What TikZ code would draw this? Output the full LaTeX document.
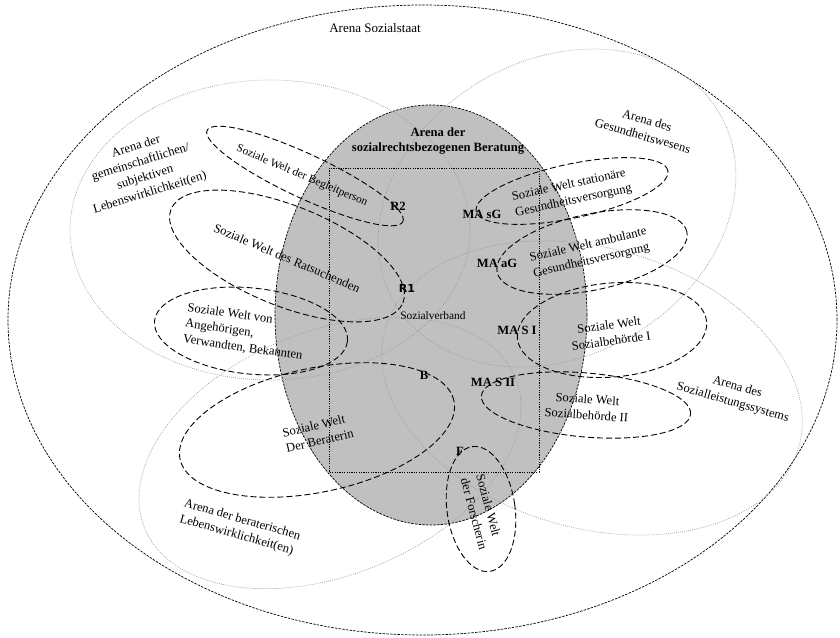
\documentclass[tikz,border=0pt]{standalone}
\usepackage{fontspec}
\setmainfont{Liberation Serif}
\newfontfamily\rfont{DejaVu Sans}
\definecolor{beratung}{HTML}{C0C0C0}
\definecolor{arenagray}{HTML}{9E9E9E}
\begin{document}
\begin{tikzpicture}[x=1pt,y=-1pt,
  outer/.style={draw=black, line width=0.7pt, dash pattern=on 2.5pt off 1.2pt},
  arena/.style={draw=arenagray, line width=0.7pt, dash pattern=on 0.8pt off 1.2pt},
  world/.style={draw=black, line width=0.9pt, dash pattern=on 6pt off 3pt},
  rahmen/.style={draw=black, line width=0.9pt, dash pattern=on 1.2pt off 1.2pt},
  txt/.style={font=\fontsize{12.6}{16}\selectfont, inner sep=0pt, align=center},
  small/.style={font=\fontsize{11.4}{13}\selectfont, inner sep=0pt},
  lbl/.style={font=\fontsize{12.6}{15}\selectfont\bfseries, inner sep=0pt}]
\useasboundingbox (0,0) rectangle (840,637);
% Arena Sozialstaat
\draw[outer] (422.5,320) ellipse [x radius=414.5pt, y radius=315pt];
% Arena der sozialrechtsbezogenen Beratung
\path[fill=beratung, outer] (431,315) ellipse [x radius=156pt, y radius=210pt];
% arenas (gray dotted)
\draw[arena] (270,230) ellipse [x radius=200pt, y radius=150pt];
\draw[arena, shift={(557,208)}, rotate=30] (0,0) ellipse [x radius=188pt, y radius=148pt];
\draw[arena, shift={(592,388)}, rotate=-16] (0,0) ellipse [x radius=215pt, y radius=140pt];
\draw[arena, shift={(330,453)}, rotate=22] (0,0) ellipse [x radius=200pt, y radius=122pt];
% Sozialverband frame
\draw[rahmen] (329,168) rectangle (539,472);
% social worlds
\draw[world, shift={(305,176)}, rotate=-25] (0,0) ellipse [x radius=108pt, y radius=22pt];
\draw[world, shift={(287,256)}, rotate=-22] (0,0) ellipse [x radius=125pt, y radius=50pt];
\draw[world, shift={(251,331)}, rotate=-6] (0,0) ellipse [x radius=97pt, y radius=43pt];
\draw[world, shift={(317,430)}, rotate=12] (0,0) ellipse [x radius=140pt, y radius=62pt];
\draw[world, shift={(572,191)}, rotate=12] (0,0) ellipse [x radius=98pt, y radius=27pt];
\draw[world, shift={(592,252)}, rotate=12] (0,0) ellipse [x radius=97pt, y radius=38pt];
\draw[world, shift={(612,330)}, rotate=5] (0,0) ellipse [x radius=95pt, y radius=47pt];
\draw[world, shift={(586,405)}, rotate=-5] (0,0) ellipse [x radius=105pt, y radius=32pt];
\draw[world, shift={(481,509)}, rotate=8] (0,0) ellipse [x radius=34pt, y radius=63pt];
% texts
\node[txt, font=\fontsize{13}{16}\selectfont] (sozialstaat) at (375,28) {Arena Sozialstaat};
\node[txt, font=\fontsize{12.6}{15}\selectfont\bfseries] (beratung) at (438,141) {Arena der\\sozialrechtsbezogenen Beratung};
\node[txt, rotate=17] (gemein) at (143,170) {Arena der\\gemeinschaftlichen/\\subjektiven\\Lebenswirklichkeit(en)};
\node[txt, rotate=-16] (gesund) at (645,128) {Arena des\\Gesundheitswesens};
\node[small, rotate=-23] (begleit) at (302,176) {Soziale Welt der Begleitperson};
\node[txt, rotate=-23] (rats) at (287,258) {Soziale Welt des Ratsuchenden};
\node[txt, align=left, rotate=12] (stat) at (572,193) {Soziale Welt stationäre\\Gesundheitsversorgung};
\node[txt, align=left, rotate=13] (amb) at (590,253) {Soziale Welt ambulante\\Gesundheitsversorgung};
\node[txt, align=left, rotate=-8] (angeh) at (245,332) {Soziale Welt von\\Angehörigen,\\Verwandten, Bekannten};
\node[txt, rotate=8] (sb1) at (610,333) {Soziale Welt\\Sozialbehörde I};
\node[txt, rotate=-4] (sb2) at (587,407) {Soziale Welt\\Sozialbehörde II};
\node[txt, rotate=-16] (sls) at (735,395) {Arena des\\Sozialleistungssystems};
\node[txt, align=left, rotate=13] (berat) at (318,433) {Soziale Welt\\Der Beraterin};
\node[txt, align=left, rotate=-16] (bera) at (240,528) {Arena der beraterischen\\Lebenswirklichkeit(en)};
\node[txt, align=left, rotate=-75] (forsch) at (482,512) {Soziale Welt\\der Forscherin};
\node[small] (sv) at (433,316) {Sozialverband};
% actors
\node[lbl] (r2) at (398,206) {R2};
\node[lbl, font=\rfont\fontsize{11}{13}\selectfont\bfseries] (r1) at (407,288) {R1};
\node[lbl] (masg) at (482,214) {MA sG};
\node[lbl] (maag) at (497,263) {MA aG};
\node[lbl] (masi) at (517,330) {MA S I};
\node[lbl] (masii) at (493,382) {MA S II};
\node[lbl] (b) at (424,375) {B};
\node[lbl] (f) at (460,451) {F};
\end{tikzpicture}
\end{document}
